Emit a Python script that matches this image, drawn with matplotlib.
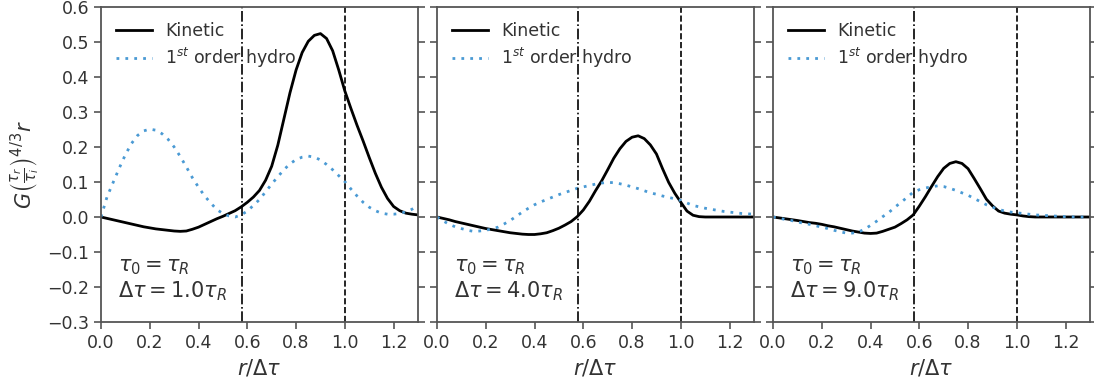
import numpy as np
import matplotlib
matplotlib.use("Agg")
import matplotlib.pyplot as plt

# r / Delta tau sample positions (step 0.025 from 0 to 1.3)
r = [round(0.025 * k, 3) for k in range(53)]

kin1 = [0.0, -0.004, -0.008, -0.012, -0.016, -0.020, -0.024, -0.028, -0.031, -0.034,
        -0.036, -0.038, -0.040, -0.041, -0.040, -0.035, -0.029, -0.021, -0.013, -0.005,
        0.002, 0.010, 0.018, 0.029, 0.042, 0.057, 0.076, 0.105, 0.145, 0.205,
        0.280, 0.355, 0.420, 0.470, 0.502, 0.519, 0.524, 0.510, 0.475, 0.420,
        0.360, 0.310, 0.262, 0.217, 0.170, 0.125, 0.085, 0.053, 0.030, 0.018,
        0.011, 0.008, 0.006]
hyd1 = [0.0, 0.058, 0.099, 0.140, 0.178, 0.210, 0.233, 0.246, 0.251, 0.248,
        0.238, 0.222, 0.200, 0.173, 0.143, 0.112, 0.085, 0.060, 0.040, 0.021,
        0.010, 0.003, 0.0, 0.006, 0.017, 0.033, 0.050, 0.072, 0.094, 0.115,
        0.135, 0.152, 0.164, 0.171, 0.174, 0.171, 0.163, 0.150, 0.135, 0.118,
        0.101, 0.080, 0.060, 0.042, 0.028, 0.018, 0.011, 0.008, 0.008, 0.010,
        0.015, 0.022, 0.033]

kin2 = [0.0, -0.004, -0.008, -0.013, -0.017, -0.021, -0.025, -0.029, -0.033, -0.036,
        -0.039, -0.042, -0.045, -0.047, -0.049, -0.050, -0.050, -0.048, -0.045, -0.039,
        -0.032, -0.023, -0.013, 0.001, 0.020, 0.045, 0.075, 0.103, 0.135, 0.168,
        0.195, 0.216, 0.228, 0.232, 0.224, 0.206, 0.180, 0.138, 0.099, 0.068,
        0.042, 0.017, 0.005, 0.001, 0.0, 0.0, 0.0, 0.0, 0.0, 0.0,
        0.0, 0.0, 0.0]
hyd2 = [0.0, -0.011, -0.021, -0.028, -0.033, -0.038, -0.041, -0.040, -0.038, -0.034,
        -0.029, -0.020, -0.010, 0.002, 0.014, 0.025, 0.035, 0.043, 0.050, 0.057,
        0.064, 0.070, 0.076, 0.082, 0.086, 0.090, 0.094, 0.097, 0.099, 0.098,
        0.095, 0.091, 0.086, 0.081, 0.075, 0.069, 0.065, 0.060, 0.056, 0.052,
        0.047, 0.040, 0.033, 0.029, 0.025, 0.022, 0.019, 0.016, 0.014, 0.012,
        0.010, 0.009, 0.008]

kin3 = [0.0, -0.0025, -0.005, -0.0075, -0.010, -0.013, -0.016, -0.018, -0.021, -0.025,
        -0.028, -0.032, -0.036, -0.040, -0.043, -0.046, -0.047, -0.046, -0.041, -0.035,
        -0.029, -0.019, -0.008, 0.006, 0.031, 0.058, 0.087, 0.115, 0.139, 0.153,
        0.158, 0.153, 0.138, 0.110, 0.081, 0.051, 0.032, 0.017, 0.011, 0.008,
        0.006, 0.003, 0.001, 0.0, 0.0, 0.0, 0.0, 0.0, 0.0, 0.0,
        0.0, 0.0, 0.0]
hyd3 = [0.0, -0.0035, -0.007, -0.010, -0.014, -0.018, -0.021, -0.025, -0.029, -0.033,
        -0.038, -0.042, -0.046, -0.046, -0.043, -0.035, -0.024, -0.012, 0.001, 0.013,
        0.028, 0.042, 0.056, 0.071, 0.078, 0.083, 0.086, 0.089, 0.087, 0.082,
        0.076, 0.069, 0.062, 0.053, 0.044, 0.035, 0.028, 0.022, 0.017, 0.014,
        0.012, 0.010, 0.008, 0.006, 0.005, 0.004, 0.003, 0.002, 0.001, 0.0005,
        0.0, 0.0, 0.0]

kinetic = [kin1, kin2, kin3]
hydro = [hyd1, hyd2, hyd3]
dtau_labels = ["1.0", "4.0", "9.0"]
x_sound = 1 / np.sqrt(3)
x_light = 1.0

yticks = [-0.3, -0.2, -0.1, 0.0, 0.1, 0.2, 0.3, 0.4, 0.5, 0.6]
xticks = [0.0, 0.2, 0.4, 0.6, 0.8, 1.0, 1.2]

spine_col = "#555555"
text_col = "#333333"
hydro_col = "#4a9ad4"

fig = plt.figure(figsize=(10.94, 3.85), dpi=100)
lefts = [101, 437, 773]
width = 317
top, bottom = 7, 322
axes = []
for i in range(3):
    ax = fig.add_axes([lefts[i] / 1094, 1 - bottom / 385, width / 1094, (bottom - top) / 385])
    axes.append(ax)
    ax.plot(r, kinetic[i], color="black", lw=2.0, label="Kinetic")
    ax.plot(r, hydro[i], color=hydro_col, lw=2.0, ls=(0, (1, 2.2)), label=r"$1^{st}$ order hydro")
    ax.axvline(x_sound, color="black", lw=1.2, ls="-.")
    ax.axvline(x_light, color="black", lw=1.2, ls="--")
    ax.set_xlim(0, 1.3)
    ax.set_ylim(-0.3, 0.6)
    ax.set_xticks(xticks)
    ax.set_yticks(yticks)
    ax.tick_params(axis="both", direction="out", length=5, width=1.2, color=spine_col,
                   labelcolor=text_col, labelsize=12.5)
    ax.tick_params(axis="y", right=True)
    if i > 0:
        ax.set_yticklabels([])
    for s in ax.spines.values():
        s.set_color(spine_col)
        s.set_linewidth(1.3)
    ax.set_xlabel(r"$r/\Delta\tau$", fontsize=15, color=text_col)
    leg = ax.legend(loc="upper left", frameon=False, fontsize=12.5, handlelength=2.1,
                    borderaxespad=0.45, labelspacing=0.38, handletextpad=0.75)
    for t in leg.get_texts():
        t.set_color(text_col)
    ax.text(0.054, 0.06, r"$\tau_0=\tau_R$" + "\n" + r"$\Delta\tau=" + dtau_labels[i] + r"\tau_R$",
            transform=ax.transAxes, fontsize=15, color=text_col, va="bottom", linespacing=1.15)

axes[0].set_ylabel(r"$G\left(\frac{\tau_r}{\tau_i}\right)^{4/3}r$", fontsize=15, color=text_col)

fig.savefig("out.png", dpi=100)
